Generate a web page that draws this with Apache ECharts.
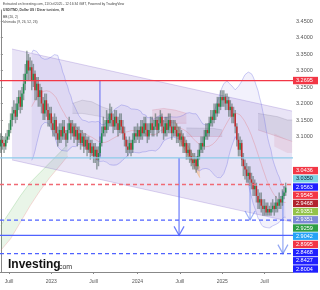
<!DOCTYPE html>
<html><head><meta charset="utf-8">
<script src="https://cdn.jsdelivr.net/npm/echarts@6/dist/echarts.min.js"></script>
<style>html,body{margin:0;padding:0;background:#fff}#c{width:320px;height:290px}</style>
</head><body><div id="c"></div>
<script>
// ---------- DATA (weekly USD/TND) ----------
const startDate = '2022-05-23';
const totalSlots = 180;
const opens = [
3.07,3.09,3.08,3.07,3.09,3.10,3.12,3.15,3.17,3.18,
3.16,3.20,3.22,3.19,3.23,3.26,3.29,3.33,3.30,3.31,
3.27,3.29,3.24,3.26,3.22,3.24,3.20,3.17,3.21,3.18,
3.15,3.17,3.14,3.12,3.15,3.11,3.09,3.12,3.10,3.13,
3.11,3.09,3.12,3.14,3.11,3.13,3.10,3.12,3.09,3.11,
3.08,3.10,3.07,3.09,3.06,3.08,3.05,3.07,3.04,3.06,
3.03,3.05,3.08,3.11,3.13,3.12,3.15,3.14,3.17,3.15,
3.13,3.16,3.14,3.12,3.15,3.13,3.11,3.09,3.07,3.06,
3.08,3.06,3.09,3.11,3.10,3.12,3.10,3.13,3.11,3.14,
3.12,3.10,3.12,3.14,3.12,3.13,3.15,3.12,3.14,3.16,
3.13,3.11,3.14,3.12,3.15,3.13,3.11,3.13,3.12,3.10,
3.11,3.09,3.10,3.07,3.08,3.05,3.06,3.04,3.03,3.02,
3.03,3.01,3.04,3.06,3.08,3.07,3.10,3.12,3.11,3.14,
3.16,3.15,3.18,3.17,3.20,3.19,3.22,3.21,3.22,3.20,
3.21,3.18,3.19,3.16,3.17,3.13,3.09,3.06,3.08,3.03,
3.01,3.00,2.98,2.99,2.97,2.96,2.94,2.95,2.92,2.90,
2.91,2.89,2.88,2.89,2.87,2.88,2.87,2.88,2.89,2.88,
2.90,2.89,2.91,2.90,2.92,2.93];
const closes = [
3.09,3.08,3.07,3.09,3.10,3.12,3.15,3.17,3.18,3.16,
3.20,3.22,3.19,3.23,3.26,3.29,3.33,3.30,3.31,3.27,
3.29,3.24,3.26,3.22,3.24,3.20,3.17,3.21,3.18,3.15,
3.17,3.14,3.12,3.15,3.11,3.09,3.12,3.10,3.13,3.11,
3.09,3.12,3.14,3.11,3.13,3.10,3.12,3.09,3.11,3.08,
3.10,3.07,3.09,3.06,3.08,3.05,3.07,3.04,3.06,3.03,
3.05,3.08,3.11,3.13,3.12,3.15,3.14,3.17,3.15,3.13,
3.16,3.14,3.12,3.15,3.13,3.11,3.09,3.07,3.06,3.08,
3.06,3.09,3.11,3.10,3.12,3.10,3.13,3.11,3.14,3.12,
3.10,3.12,3.14,3.12,3.13,3.15,3.12,3.14,3.16,3.13,
3.11,3.14,3.12,3.15,3.13,3.11,3.13,3.12,3.10,3.11,
3.09,3.10,3.07,3.08,3.05,3.06,3.04,3.03,3.02,3.03,
3.01,3.04,3.06,3.08,3.07,3.10,3.12,3.11,3.14,3.16,
3.15,3.18,3.17,3.20,3.19,3.22,3.21,3.22,3.20,3.21,
3.18,3.19,3.16,3.17,3.13,3.09,3.06,3.08,3.03,3.01,
3.00,2.98,2.99,2.97,2.96,2.94,2.95,2.92,2.90,2.91,
2.89,2.88,2.89,2.87,2.88,2.87,2.88,2.89,2.88,2.90,
2.89,2.91,2.90,2.92,2.93,2.945];
const highs = [
3.11,3.10,3.10,3.11,3.12,3.14,3.17,3.19,3.21,3.20,
3.22,3.24,3.24,3.25,3.29,3.32,3.36,3.35,3.34,3.33,
3.32,3.30,3.28,3.28,3.26,3.25,3.22,3.23,3.23,3.20,
3.19,3.19,3.16,3.17,3.16,3.13,3.14,3.14,3.15,3.15,
3.12,3.14,3.16,3.15,3.15,3.14,3.14,3.13,3.13,3.12,
3.12,3.11,3.11,3.10,3.10,3.09,3.09,3.08,3.08,3.07,
3.07,3.10,3.13,3.16,3.15,3.18,3.17,3.20,3.19,3.17,
3.18,3.18,3.16,3.17,3.17,3.15,3.13,3.10,3.09,3.10,
3.09,3.11,3.13,3.13,3.14,3.13,3.15,3.15,3.16,3.16,
3.14,3.14,3.16,3.16,3.15,3.17,3.16,3.16,3.18,3.17,
3.15,3.16,3.16,3.17,3.17,3.15,3.15,3.15,3.14,3.13,
3.13,3.12,3.11,3.10,3.09,3.08,3.08,3.06,3.05,3.05,
3.04,3.06,3.08,3.10,3.10,3.12,3.14,3.14,3.16,3.18,
3.18,3.20,3.20,3.22,3.22,3.24,3.24,3.24,3.23,3.23,
3.22,3.21,3.20,3.19,3.18,3.14,3.11,3.10,3.09,3.05,
3.03,3.02,3.01,3.01,2.99,2.98,2.97,2.96,2.94,2.93,
2.93,2.91,2.91,2.90,2.90,2.89,2.90,2.91,2.90,2.92,
2.91,2.93,2.92,2.94,2.95,2.96];
const lows = [
3.05,3.06,3.05,3.06,3.08,3.09,3.11,3.13,3.15,3.14,
3.15,3.18,3.17,3.18,3.21,3.24,3.27,3.27,3.27,3.24,
3.25,3.21,3.21,3.19,3.19,3.17,3.15,3.15,3.16,3.13,
3.13,3.12,3.10,3.10,3.09,3.07,3.08,3.08,3.09,3.09,
3.07,3.08,3.11,3.09,3.10,3.08,3.09,3.07,3.08,3.06,
3.07,3.05,3.06,3.04,3.05,3.03,3.04,3.02,3.02,3.00,
3.01,3.04,3.07,3.10,3.10,3.11,3.12,3.13,3.13,3.11,
3.12,3.12,3.10,3.11,3.11,3.09,3.07,3.05,3.04,3.05,
3.04,3.05,3.08,3.08,3.09,3.08,3.09,3.09,3.10,3.10,
3.08,3.09,3.11,3.10,3.10,3.12,3.10,3.11,3.13,3.11,
3.09,3.10,3.10,3.11,3.11,3.09,3.10,3.10,3.08,3.08,
3.07,3.07,3.05,3.05,3.03,3.03,3.02,3.01,3.00,3.00,
2.99,3.00,3.03,3.05,3.05,3.06,3.09,3.09,3.10,3.13,
3.13,3.14,3.15,3.16,3.17,3.18,3.19,3.19,3.18,3.18,
3.16,3.16,3.14,3.14,3.11,3.07,3.04,3.04,3.01,2.98,
2.97,2.96,2.96,2.95,2.94,2.92,2.92,2.90,2.88,2.88,
2.87,2.86,2.86,2.86,2.86,2.86,2.86,2.87,2.86,2.87,
2.87,2.88,2.88,2.89,2.91,2.92];

// x-axis tick labels (month that starts inside the week -> label)
const xTickMonths = ['2022-07','2023-01','2023-07','2024-01','2024-07','2025-01','2025-07'];
const xTickLabels = ['Juill','2023','Juill','2024','Juill','2025','Juill'];
// y-axis tick labels
const yTickValues = [3.10,3.15,3.20,3.25,3.30,3.35,3.40,3.45];

// drawn objects (x in week-slot units, y in price)
const channelX = [6.9, 178.9];
const channelTop = [3.365, 3.177];
const channelBottom = [3.029, 2.841];
const orangeX = [107, 122.3];
const orangeTop = [3.145, 3.005];
const orangeBottom = [3.115, 2.975];
const arrowX = [60.9, 109.5, 153.1, 173.3];
const arrowFrom = [3.2695, 3.035, 2.95, 2.935];
const arrowTo = [3.035, 2.8004, 2.8468, 2.745];
const arrowHead = [0, 1, 1, 1];
const hLevels = [3.2695, 3.035, 2.9545, 2.8468, 2.8004, 2.745];

// Ichimoku cloud pieces
const cloudGreenX = [0, 6, 12, 18, 24, 30, 36, 41];
const cloudGreenTop = [2.83, 2.875, 2.92, 2.96, 2.99, 3.02, 3.05, 3.075];
const cloudGreenBottom = [2.755, 2.79, 2.84, 2.89, 2.935, 2.975, 3.01, 3.04];
const cloudGray1X = [44, 50, 56, 62, 68];
const cloudGray1Top = [3.20, 3.21, 3.205, 3.19, 3.18];
const cloudGray1Bottom = [3.17, 3.17, 3.165, 3.16, 3.15];
const cloudPinkX = [93, 100, 107, 114];
const cloudPinkTop = [3.18, 3.185, 3.18, 3.17];
const cloudPinkBottom = [3.15, 3.145, 3.14, 3.14];
const cloudGray2X = [114, 122, 130, 136];
const cloudGray2Top = [3.126, 3.125, 3.125, 3.12];
const cloudGray2Bottom = [3.10, 3.10, 3.10, 3.10];
const cloudGray3X = [158, 164, 170, 176, 179];
const cloudGray3Top = [3.17, 3.165, 3.16, 3.15, 3.15];
const cloudGray3Bottom = [3.12, 3.11, 3.10, 3.09, 3.085];
const cloudPink2X = [168, 172, 176, 179];
const cloudPink2Top = [3.11, 3.10, 3.09, 3.085];
const cloudPink2Bottom = [3.07, 3.06, 3.05, 3.05];

// right-hand price labels
const priceLabelValues = [3.2695, 3.0436, 3.0350, 2.9563, 2.9545, 2.9468, 2.9351, 2.9351, 2.9259, 2.9042, 2.8995, 2.8468, 2.8427, 2.8004];

// ---------- STYLES ----------
const hLevelStyles = [
  {color:'#f23645', type:'solid'},
  {color:'#8ccbea', type:'solid'},
  {color:'#f06a74', type:[4,3]},
  {color:'#4f62ff', type:[4,3]},
  {color:'#4f62ff', type:'solid'},
  {color:'#4f62ff', type:[4,3]}
];
const arrowColors = ['rgba(80,90,240,0.75)','rgba(80,100,250,0.85)','rgba(100,130,240,0.6)','rgba(100,130,240,0.7)'];
const priceLabelColors = ['#f23645','#f23645','#7dd3e3','#1f1fff','#f23645','#b2232f','#93c34a','#7e8ad6','#2f9e44','#27a3f5','#f23645','#1f1fff','#1f1fff','#1f1fff'];
const priceLabelText = ['#fff','#fff','#123','#fff','#fff','#fff','#fff','#fff','#fff','#fff','#fff','#fff','#fff','#fff'];

// ---------- BUILD ----------
const dates = [];
const weekLabel = {};
const d0 = new Date(startDate + 'T00:00:00Z');
for (let i = 0; i < totalSlots; i++) {
  const d = new Date(d0.getTime() + i * 7 * 86400000);
  dates.push(d.toISOString().slice(0, 10));
  for (let k = 0; k < 7; k++) {
    const dd = new Date(d.getTime() + k * 86400000);
    if (dd.getUTCDate() === 1) {
      const key = dd.toISOString().slice(0, 7);
      const idx = xTickMonths.indexOf(key);
      if (idx >= 0) weekLabel[i] = xTickLabels[idx];
    }
  }
}

// Bollinger Bands (20, 2) on closes
const bbLower = [], bbBand = [], bbMid = [];
for (let i = 0; i < closes.length; i++) {
  if (i < 19) { bbLower.push('-'); bbBand.push('-'); bbMid.push('-'); continue; }
  let s = 0; for (let k = i - 19; k <= i; k++) s += closes[k];
  const m = s / 20;
  let v = 0; for (let k = i - 19; k <= i; k++) v += (closes[k] - m) * (closes[k] - m);
  const sd = Math.sqrt(v / 20);
  bbLower.push(m - 2 * sd); bbBand.push(4 * sd); bbMid.push(m);
}

const candleData = closes.map((c, i) => [i, opens[i], c, lows[i], highs[i]]);

const yMin = 2.6894, yMax = 3.4833;
const FONT = 'Liberation Sans, Arial, sans-serif';

function bandSeries(xs, tops, bottoms, fill, stroke, z) {
  return {
    type: 'custom', xAxisIndex: 1, z: z, silent: true,
    data: xs.map((x, i) => [x, tops[i], bottoms[i]]),
    renderItem: (params, api) => {
      if (params.dataIndex !== 0) return null;
      const up = xs.map((x, i) => api.coord([x, tops[i]]));
      const dn = xs.map((x, i) => api.coord([x, bottoms[i]]));
      const ch = [{type: 'polygon', shape: {points: up.concat(dn.slice().reverse())}, style: {fill: fill}}];
      if (stroke) {
        ch.push({type: 'polyline', shape: {points: up}, style: {stroke: stroke[0], fill: null, lineWidth: 0.6}});
        ch.push({type: 'polyline', shape: {points: dn}, style: {stroke: stroke[1], fill: null, lineWidth: 0.6}});
      }
      return {type: 'group', children: ch};
    }
  };
}

// one plain line series per horizontal level
const levelSeries = hLevels.map((v, i) => ({
  type: 'line', xAxisIndex: 1, z: 6, silent: true, symbol: 'none',
  data: [[-0.5, v], [totalSlots - 0.5, v]],
  lineStyle: {color: hLevelStyles[i].color, type: hLevelStyles[i].type, width: 1.3}
}));

const chart = echarts.init(document.getElementById('c'), null, {renderer: 'canvas'});
const option = {
  animation: false,
  backgroundColor: '#fff',
  grid: {left: 0, right: 27, top: 10, height: 262},
  xAxis: [{
    type: 'category', data: dates, boundaryGap: true,
    axisLine: {lineStyle: {color: '#888', width: 1}},
    axisTick: {show: true, length: 2, lineStyle: {color: '#888'}, interval: (i) => weekLabel[i] !== undefined, alignWithLabel: true},
    axisLabel: {interval: (i) => weekLabel[i] !== undefined, formatter: (v, i) => weekLabel[i] || '', fontSize: 5, color: '#555', fontFamily: FONT, margin: 7},
    splitLine: {show: false}
  }, {
    type: 'value', min: -0.5, max: totalSlots - 0.5, show: false
  }],
  yAxis: {
    type: 'value', position: 'right', min: yMin, max: yMax,
    axisLine: {show: true, lineStyle: {color: '#888', width: 1}},
    axisTick: {show: true, length: 2, lineStyle: {color: '#888'}, customValues: yTickValues},
    axisLabel: {customValues: yTickValues, formatter: (v) => v.toFixed(4), fontSize: 5.5, color: '#555', fontFamily: FONT, margin: 3},
    splitLine: {show: false}
  },
  series: [
    bandSeries(cloudGreenX, cloudGreenTop, cloudGreenBottom, 'rgba(120,190,110,0.16)', ['rgba(110,190,110,0.5)', 'rgba(235,120,120,0.45)'], 1),
    bandSeries(cloudGray1X, cloudGray1Top, cloudGray1Bottom, 'rgba(120,120,130,0.13)', ['rgba(120,120,130,0.35)', 'rgba(120,120,130,0.3)'], 1),
    bandSeries(cloudPinkX, cloudPinkTop, cloudPinkBottom, 'rgba(230,110,120,0.16)', ['rgba(230,110,120,0.4)', 'rgba(230,110,120,0.35)'], 1),
    bandSeries(cloudGray2X, cloudGray2Top, cloudGray2Bottom, 'rgba(120,120,130,0.16)', ['rgba(120,120,130,0.35)', 'rgba(230,110,120,0.35)'], 1),
    bandSeries(cloudGray3X, cloudGray3Top, cloudGray3Bottom, 'rgba(120,120,130,0.16)', ['rgba(120,120,130,0.4)', 'rgba(230,110,120,0.4)'], 1),
    bandSeries(cloudPink2X, cloudPink2Top, cloudPink2Bottom, 'rgba(230,110,120,0.14)', null, 1),
    bandSeries(channelX, channelTop, channelBottom, 'rgba(126,96,200,0.17)', ['rgba(126,96,200,0.45)', 'rgba(126,96,200,0.45)'], 2),
    bandSeries(orangeX, orangeTop, orangeBottom, 'rgba(255,150,40,0.28)', ['rgba(240,140,40,0.5)', 'rgba(240,140,40,0.5)'], 2),
    { name: 'bbLower', type: 'line', data: bbLower, stack: 'bb', symbol: 'none', z: 2, silent: true,
      lineStyle: {color: 'rgba(120,120,230,0.55)', width: 0.7} },
    { name: 'bbBand', type: 'line', data: bbBand, stack: 'bb', symbol: 'none', z: 2, silent: true,
      lineStyle: {color: 'rgba(120,120,230,0.55)', width: 0.7},
      areaStyle: {color: 'rgba(120,110,220,0.14)'} },
    { name: 'bbMid', type: 'line', data: bbMid, symbol: 'none', z: 2, silent: true,
      lineStyle: {color: 'rgba(230,90,90,0.45)', width: 0.6} },
    ...levelSeries,
    { // arrows
      type: 'custom', xAxisIndex: 1, z: 4, silent: true,
      data: arrowX.map((x, i) => [x, arrowFrom[i], arrowTo[i]]),
      renderItem: (params, api) => {
        const x = api.value(0), p1 = api.coord([x, api.value(1)]), p2 = api.coord([x, api.value(2)]);
        const col = arrowColors[params.dataIndex];
        const ch = [{type: 'line', shape: {x1: p1[0], y1: p1[1], x2: p2[0], y2: p2[1]}, style: {stroke: col, lineWidth: 1.2}}];
        if (arrowHead[params.dataIndex]) ch.push({type: 'polyline', shape: {points: [[p2[0] - 5, p2[1] - 9], [p2[0], p2[1]], [p2[0] + 5, p2[1] - 9]]}, style: {stroke: col, fill: null, lineWidth: 1.2}});
        return {type: 'group', children: ch};
      }
    },
    { // candles
      type: 'custom', xAxisIndex: 0, z: 5, silent: true,
      data: candleData,
      encode: {x: 0, y: [1, 2, 3, 4]},
      renderItem: (params, api) => {
        const i = api.value(0), o = api.value(1), c = api.value(2), l = api.value(3), h = api.value(4);
        const w = Math.max(1, api.size([1, 0])[0] * 0.9);
        const ph = api.coord([i, h]), pl = api.coord([i, l]);
        const po = api.coord([i, o]), pc = api.coord([i, c]);
        const up = c >= o;
        const top = Math.min(po[1], pc[1]), hgt = Math.max(1, Math.abs(po[1] - pc[1]));
        return {type: 'group', children: [
          {type: 'rect', shape: {x: ph[0] - w / 2, y: ph[1], width: w, height: pl[1] - ph[1]}, style: {fill: 'rgba(70,95,85,0.55)'}},
          {type: 'rect', shape: {x: ph[0] - w / 2, y: top, width: w, height: hgt}, style: {fill: up ? '#1e8e4e' : '#c62a2a'}}
        ]};
      }
    }
  ]
};
chart.setOption(option);

// ---------- overlay texts ----------
const g = [];
const headerLines = [
  {t: 'Extracted on Investing.com, 11/Oct/2025 - 12:16:34 GMT, Powered by TradingView', y: 3, bold: false},
  {t: 'USD/TND, Dollar US / Dinar tunisien, W', y: 9, bold: true},
  {t: 'BB (20, 2)', y: 16, bold: false},
  {t: 'Ichimoku (9, 26, 52, 26)', y: 21, bold: false}
];
headerLines.forEach(h => g.push({type: 'text', left: 3, top: h.y, z: 50,
  style: {text: h.t, fontSize: 3.3, fontWeight: h.bold ? 'bold' : 'normal', fill: '#444', fontFamily: FONT}}));
g.push({type: 'text', left: 8, top: 259, z: 50, style: {text: 'Investing', fontSize: 12, fontWeight: 'bold', fill: '#111', fontFamily: FONT}});
g.push({type: 'text', left: 57, top: 264, z: 50, style: {text: '.com', fontSize: 7, fill: '#333', fontFamily: FONT}});

const boxH = 7.4, step = 8.2, boxX = 293, boxW = 25;
const bottomCenter = 269;
const n = priceLabelValues.length;
priceLabelValues.forEach((v, k) => {
  let cy;
  if (k === 0) cy = chart.convertToPixel({yAxisIndex: 0}, v);
  else cy = bottomCenter - (n - 1 - k) * step;
  g.push({type: 'rect', z: 60, shape: {x: boxX, y: cy - boxH / 2, width: boxW, height: boxH}, style: {fill: priceLabelColors[k]}});
  g.push({type: 'text', z: 61, x: boxX + 3, y: cy, style: {text: v.toFixed(4), fontSize: 5.5, fill: priceLabelText[k], fontFamily: FONT, verticalAlign: 'middle'}});
});
chart.setOption({graphic: g});
</script></body></html>
